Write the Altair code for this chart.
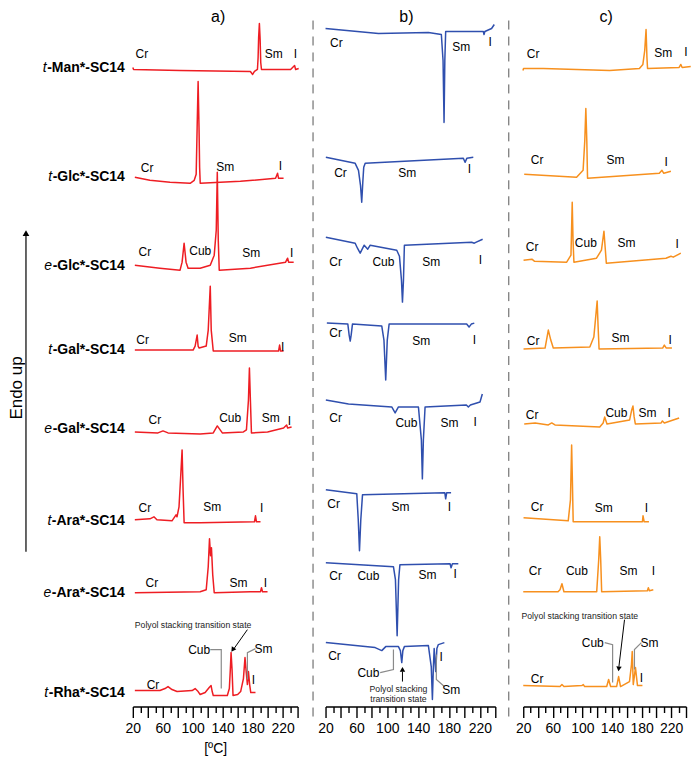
import altair as alt
import pandas as pd

FONT = "Liberation Sans"
RED = "#ee1d23"
BLUE = "#2f4fae"
ORANGE = "#f7901e"
GREY = "#8a8a8a"

# ---------------- DSC curves: (temperature °C, stacked heat flow a.u.) ----------------
# panel a (red)
a_tMan = [(20,640),(21,638),(83,637),(177,636),(180,633),(182.4,636),(186.4,638),(187.3,650),(188,670),(189,684),(190,668),(190.8,645),(191.8,638),(230.7,638),(236,642),(237.4,638),(241.5,639)]
a_tGlc = [(22.7,530),(42.8,527),(69.7,525),(96.5,524),(102,527),(104.6,533),(105.9,580),(107.2,626),(108.4,580),(109.2,540),(110,524),(163.6,526),(210.6,529),(213.3,534),(214.6,529),(221.3,529)]
a_eGlc = [(22.7,442),(56.2,439),(83.1,437),(85.8,445),(88.5,464),(91.1,445),(93.8,439),(109.9,439),(123.4,442),(128.7,452),(131.4,477),(132.8,535),(134.1,467),(135.4,437),(177,439),(224,445),(226.7,449),(228,445),(234.8,445)]
a_tGal = [(22.7,357),(100.5,357),(103.2,361),(105.9,372),(107.2,361),(108.6,359),(118,361),(120.7,377),(123.4,421),(124.7,377),(127.4,356),(214.6,356),(216,362),(217.3,356),(221.3,356)]
a_eGal = [(22.7,275),(53.6,274),(60.3,276),(67,274),(109.9,273),(127.4,274),(132.8,281),(139.5,274),(167.7,275),(171.7,277),(174.4,307),(175.7,339),(177,307),(178.4,274),(199.9,275),(221.3,279),(225.4,282),(226.7,279),(232,280)]
a_tAra = [(22.7,187),(42.8,188),(48.2,190),(52.2,187),(72.3,186),(77.7,192),(79,190),(81.7,200),(84.4,237),(85.8,257),(87.1,217),(88.5,184),(109.9,184),(182.4,185),(183.8,191),(185.1,185),(190.5,185)]
a_eAra = [(22.7,114),(109.9,115),(118,117),(120.7,140),(122.4,168),(123.8,151),(125,159),(126.7,132),(128.7,114),(177,115),(190.5,115),(191.8,119),(193.2,115),(199.9,115)]
a_tRha = [(22.7,16),(56.2,16),(63,18),(67,20),(72.3,17),(79,15),(99.2,16),(103.2,18),(107.2,15),(109.9,12),(116.6,14),(122,19),(124.5,21),(126,15),(127.4,11),(146.2,11),(148.9,18),(150.2,37),(151.2,54),(152.5,37),(153.8,11),(160,12),(164,15),(167.7,28),(169.8,49),(171.5,34),(173,22),(174.4,35),(176,22),(177.5,14),(183.8,14)]

# panel b (blue)
b_tMan = [(20,679),(88.6,674),(153.3,675),(170.1,673),(172.3,647),(173.6,585),(174.6,647),(175.7,676),(224.5,676),(225.4,673),(226.5,676),(235.2,679),(238.7,683)]
b_tGlc = [(20.4,550),(58.4,544),(62.7,537),(65.3,522),(66.9,505),(68.3,525),(69.5,540),(71.4,544),(198.6,549),(200.8,545),(203.1,549),(211.5,550)]
b_eGlc = [(20.4,470),(58.4,464),(61.4,459),(64.9,454),(70.1,462),(74.7,458),(77.9,462),(112.3,457),(115.8,451),(118.4,427),(119.7,405),(121,427),(122.2,462),(209.3,465),(212.8,464),(215.4,465),(223.6,468)]
b_tGal = [(21.7,384),(48.9,383),(50.6,372),(52,366),(53.2,372),(54.9,383),(92.9,381),(95.7,367),(98,327),(100,367),(102.4,383),(202.9,383),(206,380),(208.9,383),(212.8,384)]
b_eGal = [(20.4,307),(49.8,303),(105.8,300),(110.2,294),(114.5,300),(140.4,300),(144.2,267),(145.5,228),(146.8,267),(149,300),(202.5,302),(205.1,300),(207.7,302),(220.2,305),(223.2,313)]
b_tAra = [(20.4,217),(60.5,213),(62.4,187),(64,156),(65.7,187),(67.9,212),(174.6,214),(175.7,208),(177,214),(182.7,214)]
b_eAra = [(20.4,144),(108,140),(110.6,127),(112.8,71),(114.7,127),(116.4,142),(181.4,143),(182.7,139),(184.4,143),(192.1,143)]
b_tRha = [(20.4,64),(84.3,59),(92.9,56),(98,60),(114.5,60),(117,56),(118.8,44),(120.2,56),(122.2,60),(153.3,61),(157,40),(158.5,7),(159.8,40),(160.8,58),(162.8,35),(164.3,58),(166.2,62),(174,64)]

# panel c (orange)
c_tMan = [(19.6,637),(20.4,639),(47.2,639),(136.8,637),(177,639),(181.7,643),(184.2,657),(186,678),(187.2,650),(188,639),(230.7,640),(233,643),(234.8,640),(246.4,641)]
c_tGlc = [(21.3,533),(92.1,530),(100.9,537),(103.2,567),(104.6,599),(105.9,567),(106.9,529),(203.9,534),(207.5,537),(210,534),(219.6,536)]
c_eGlc = [(20.4,447),(31.7,448),(35,446),(78.7,445),(84.5,452),(86.2,505),(87.3,467),(88.5,445),(119,449),(125.7,457),(129.1,476),(130.7,460),(132.3,444),(212.9,449),(219.6,451),(222.7,450),(233,454)]
c_tGal = [(20.4,358),(49.5,359),(53.9,377),(57.2,367),(58.5,364),(60.6,359),(110,360),(115.4,370),(119.9,406),(121.2,380),(122.5,358),(208.4,359),(210.7,362),(213.4,359),(221,359)]
c_eGal = [(21.3,283),(36.1,284),(53.9,282),(58.5,284),(62.9,282),(123.4,280),(128,284),(130.1,290),(133.2,283),(163.8,287),(166.6,297),(168.3,301),(169.9,290),(171.5,283),(206.4,284),(208.1,286),(210.7,284),(230.7,289)]
c_tAra = [(20.4,189),(80.8,186),(83.8,207),(85.4,262),(86.4,227),(87.5,185),(181.1,185),(181.9,191),(183.5,185),(189.9,185)]
c_eAra = [(20,115),(67,115),(69.7,117),(72.3,123),(75,115),(119.3,115),(122,147),(123.4,170),(124.7,147),(126,115),(187.8,116),(189.1,119),(190.5,116),(195.8,117)]
c_tRha = [(20,21),(69.7,20),(72.3,22),(75,20),(99.2,21),(101.2,22),(103,20),(132.8,20),(135.4,27),(138.1,20),(146.2,20),(148.9,30),(151.5,20),(163.6,25),(166.3,42),(167.3,55),(168.7,22),(171.7,39),(174.4,21),(181.1,21)]

# ---------------- phase labels: (text, temperature, height) ----------------
a_labels = [("Cr",32,653),("Sm",208,653),("I",237,653),
            ("Cr",39,539),("Sm",143.5,540),("I",217,541),
            ("Cr",36,455),("Cub",110,456),("Sm",178,454),("I",232,454),
            ("Cr",33,367),("Sm",160,369),("I",220,360),
            ("Cr",49.5,287),("Cub",150,289),("Sm",204,289),("I",229,286),
            ("Cr",36,199),("Sm",126,200),("I",192,199),
            ("Cr",45.5,124),("Sm",161,124),("I",197,124),
            ("Cr",47,22),("Cub",108.6,57),("Sm",194.5,58),("I",181,27)]
b_labels = [("Cr",34,664),("Sm",196,660),("I",233.5,665),
            ("Cr",39.4,534),("Sm",126,534),("I",206.4,538),
            ("Cr",33,445),("Cub",95,445),("Sm",157,445),("I",220.6,447),
            ("Cr",33,374),("Sm",144,366),("I",212.8,367),
            ("Cr",33,289),("Cub",124.8,284),("Sm",180.5,284),("I",214,285),
            ("Cr",30.4,203),("Sm",117,200),("I",180.5,200),
            ("Cr",33,131),("Cub",75.6,131),("Sm",152,132),("I",188,133),
            ("Cr",31.6,51),("Cub",75.6,34),("Sm",183,17),("I",170,50)]
c_labels = [("Cr",33.4,653),("Sm",209.3,654),("I",240,655),
            ("Cr",38.8,547),("Sm",144.8,547),("I",213.3,545),
            ("Cr",32,460),("Cub",104.6,464),("Sm",159.6,464),("I",228,463),
            ("Cr",33.4,366),("Sm",151.5,369),("I",218.7,367),
            ("Cr",32,292),("Cub",146,294),("Sm",187.8,294),("I",217.3,294),
            ("Cr",38.8,200),("Sm",128.7,199),("I",186.4,199),
            ("Cr",36,136),("Cub",92.5,136),("Sm",162.3,136),("I",195.8,136),
            ("Cr",38.8,28),("Cub",114,64),("Sm",190.5,64),("I",179.7,29)]

# leader lines and arrows (temperature, height)
a_leaders = [[(123.4,57),(138.1,57),(138.1,18)], [(183.8,58),(173,54),(173,27)]]
b_leaders = [[(90.8,34),(108,37),(108,57)], [(174,20),(163.6,27),(163.6,52)]]
c_leaders = [[(130.1,64),(140.8,62),(140.8,24)], [(179.7,64),(170.3,57),(170.3,37)]]
a_arrow = [(173,77),(154.2,57)]; a_head = (154.0,57.5,214)
b_arrow = [(119.7,25),(119.7,35)]; b_head = (119.7,36.5,0)
c_arrow = [(156.9,87),(149.3,40)]; c_head = (149.2,38.5,187)
a_polyol = [("Polyol stacking transition state",100.5,82)]
b_polyol = [("Polyol stacking",114.5,18),("transition state",114.5,8)]
c_polyol = [("Polyol stacking transition state",96.5,91)]

panel_titles = [("a)",134,699),("b)",124.8,699),("c)",132,699)]
divider_T = [3.8, 257.5]

row_prefix = ["t","t","e","t","e","t","e","t"]
row_name = ["-Man*-SC14","-Glc*-SC14","-Glc*-SC14","-Gal*-SC14","-Gal*-SC14","-Ara*-SC14","-Ara*-SC14","-Rha*-SC14"]
row_H = [639,530,441,357,278,186,114,14]

TICKS = list(range(20, 241, 10))
H_TOTAL = 699
YS = alt.Scale(domain=[0, H_TOTAL], nice=False, zero=False)

# Arial-bold advance widths (per 1000 em) to place the italic prefix
BOLDW = {"-":333,"*":389,"S":667,"C":722,"1":556,"4":556,"M":833,"a":556,"n":611,
         "G":778,"l":278,"c":556,"A":722,"r":389,"R":722,"h":611}


def curves_df(curves):
    rows = []
    for name, pts in curves:
        for i, (t, h) in enumerate(pts):
            rows.append({"curve": name, "i": i, "T": t, "H": h})
    return pd.DataFrame(rows)


def panel(curves, color, labels, width, leaders, arrow, head, polyol, title, axis_title, dividers=None):
    xs = alt.Scale(domain=[20, 240], nice=False, zero=False)
    axis_kw = dict(values=TICKS, labelExpr="datum.value % 40 == 20 ? datum.label : ''",
                   tickSize={"condition": {"test": "datum.value % 20 == 0", "value": 11}, "value": 6},
                   grid=False, domainColor="black", domainWidth=1.4, tickColor="black", tickWidth=1.4,
                   labelFontSize=14, labelColor="black", labelFont=FONT, labelPadding=4,
                   labelFlush=False, labelOverlap=False, titleFontSize=14, titleFontWeight="normal",
                   titleFont=FONT, titleColor="black", titlePadding=6)
    ax = alt.Axis(**axis_kw)
    X = lambda f="T": alt.X(f + ":Q", scale=xs, axis=ax, title=axis_title)
    Y = lambda f="H": alt.Y(f + ":Q", scale=YS, axis=None)

    layers = []
    if dividers is not None:
        ddf = pd.DataFrame({"T": dividers, "H0": [-10] * len(dividers), "H1": [692] * len(dividers)})
        layers.append(alt.Chart(ddf).mark_rule(color="#555555", strokeWidth=1, strokeDash=[9, 7]).encode(
            x=X(), y=Y("H0"), y2="H1:Q"))
    layers.append(alt.Chart(curves_df(curves)).mark_line(color=color, strokeWidth=1.5, strokeJoin="round").encode(
        x=X(), y=Y(), detail="curve:N", order="i:Q"))
    ldf = curves_df([(f"l{k}", pts) for k, pts in enumerate(leaders)])
    layers.append(alt.Chart(ldf).mark_line(color=GREY, strokeWidth=1.2).encode(
        x=X(), y=Y(), detail="curve:N", order="i:Q"))
    adf = curves_df([("arrow", arrow)])
    layers.append(alt.Chart(adf).mark_line(color="black", strokeWidth=1).encode(
        x=X(), y=Y(), detail="curve:N", order="i:Q"))
    hdf = pd.DataFrame([{"T": head[0], "H": head[1], "ang": head[2]}])
    layers.append(alt.Chart(hdf).mark_point(shape="triangle", filled=True, color="black", size=30, opacity=1).encode(
        x=X(), y=Y(), angle=alt.Angle("ang:Q", scale=None)))
    tdf = pd.DataFrame(labels, columns=["text", "T", "H"])
    layers.append(alt.Chart(tdf).mark_text(fontSize=12, font=FONT, color="black", baseline="middle").encode(
        x=X(), y=Y(), text="text:N"))
    pdf = pd.DataFrame(polyol, columns=["text", "T", "H"])
    layers.append(alt.Chart(pdf).mark_text(fontSize=8.7, font=FONT, color="#222222", baseline="middle").encode(
        x=X(), y=Y(), text="text:N"))
    ttl = pd.DataFrame([title], columns=["text", "T", "H"])
    layers.append(alt.Chart(ttl).mark_text(fontSize=16, font=FONT, color="black", baseline="top").encode(
        x=X(), y=Y(), text="text:N"))
    return alt.layer(*layers).properties(width=width, height=H_TOTAL)


pa = panel([("tMan", a_tMan), ("tGlc", a_tGlc), ("eGlc", a_eGlc), ("tGal", a_tGal), ("eGal", a_eGal),
            ("tAra", a_tAra), ("eAra", a_eAra), ("tRha", a_tRha)], RED, a_labels, 165,
           a_leaders, a_arrow, a_head, a_polyol, panel_titles[0], "[ºC]")
pb = panel([("tMan", b_tMan), ("tGlc", b_tGlc), ("eGlc", b_eGlc), ("tGal", b_tGal), ("eGal", b_eGal),
            ("tAra", b_tAra), ("eAra", b_eAra), ("tRha", b_tRha)], BLUE, b_labels, 170,
           b_leaders, b_arrow, b_head, b_polyol, panel_titles[1], None, dividers=divider_T)
pc = panel([("tMan", c_tMan), ("tGlc", c_tGlc), ("eGlc", c_eGlc), ("tGal", c_tGal), ("eGal", c_eGal),
            ("tAra", c_tAra), ("eAra", c_eAra), ("tRha", c_tRha)], ORANGE, c_labels, 163,
           c_leaders, c_arrow, c_head, c_polyol, panel_titles[2], None)

# ---------------- left label column ----------------
RIGHT = 117
widths = [sum(BOLDW[ch] for ch in nm) * 14 / 1000 for nm in row_name]
rdf = pd.DataFrame({"prefix": row_prefix, "name": row_name, "H": row_H,
                    "px": [RIGHT - w - 0.5 for w in widths]})
lab_name = alt.Chart(rdf).mark_text(fontSize=14, font=FONT, fontWeight="bold", align="right",
                                    baseline="middle", color="black").encode(
    x=alt.value(RIGHT), y=alt.Y("H:Q", scale=YS, axis=None), text="name:N")
lab_pre = alt.Chart(rdf).mark_text(fontSize=14, font=FONT, fontStyle="italic", align="right",
                                   baseline="middle", color="black").encode(
    x=alt.X("px:Q", scale=None, axis=None), y=alt.Y("H:Q", scale=YS, axis=None), text="prefix:N")
endo = alt.Chart(pd.DataFrame({"t": ["Endo up"], "H": [319]})).mark_text(
    fontSize=17, font=FONT, angle=270, baseline="middle", align="center", color="black").encode(
    x=alt.value(9), y=alt.Y("H:Q", scale=YS, axis=None), text="t:N")
arr = alt.Chart(pd.DataFrame({"H0": [155], "H1": [474]})).mark_rule(color="black", strokeWidth=1.2).encode(
    x=alt.value(18), y=alt.Y("H0:Q", scale=YS, axis=None), y2="H1:Q")
arr_head = alt.Chart(pd.DataFrame({"H": [474]})).mark_point(shape="triangle-up", filled=True, color="black",
                                                            size=45, opacity=1).encode(
    x=alt.value(18), y=alt.Y("H:Q", scale=YS, axis=None))
left = alt.layer(arr, arr_head, endo, lab_pre, lab_name).properties(width=97, height=H_TOTAL)

chart = alt.hconcat(left, pa, pb, pc, spacing=28, bounds="flush").properties(
    padding=0, background="white").configure_view(stroke=None)

chart.save("out.html", embed_options={"renderer": "svg", "actions": False})
